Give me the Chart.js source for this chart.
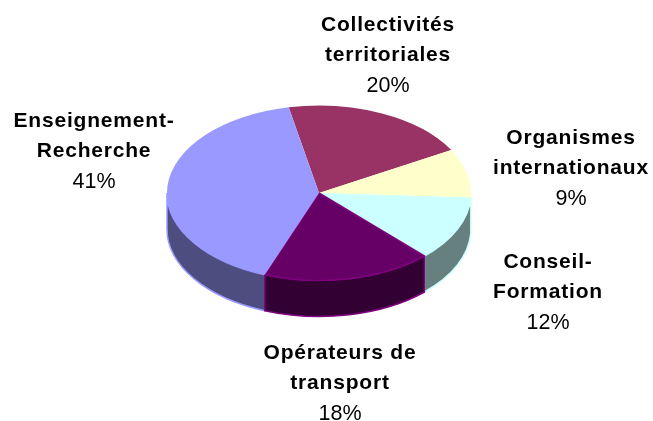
<!DOCTYPE html>
<html lang="fr">
<head>
<meta charset="utf-8">
<title>Répartition</title>
<script src="https://cdn.jsdelivr.net/npm/chart.js@4"></script>
<style>
  html, body { margin: 0; padding: 0; background: #fff; }
  canvas { display: block; }
</style>
</head>
<body>
<canvas id="pieChart" width="653" height="421"></canvas>
<script>
// Data
const categories = [
    ['Collectivités', 'territoriales'],
    ['Organismes', 'internationaux'],
    ['Conseil-', 'Formation'],
    ['Opérateurs de', 'transport'],
    ['Enseignement-', 'Recherche']
];
const values = [20, 9, 12, 18, 41];
const topColors = ['#993366', '#FFFFCC', '#CCFFFF', '#660066', '#9999FF'];
const wallColors = ['#4D1A33', '#808066', '#668080', '#330033', '#4D4D80'];
const edgeColors = ['#993366', '#FFFFCC', '#CCFFFF', '#800080', '#9999FF'];

// Label layout: centre x and first baseline y of each label block
const labelX = [388, 571, 548, 340, 94];
const labelY = [31, 144, 268, 359, 127];
const lineGap = 30;

const squash = 0.575;  // tilt of the pie
const depth = 36;      // height of the side wall
const wallOrder = [0, 1, 2, 4, 3];  // purple wall last, its edge sits on top

// Outline of the slice's front wall, squashed like the top face
function drawWall(ctx, arc, index) {
    const from = Math.max(arc.startAngle, 0);
    const to = Math.min(arc.endAngle, Math.PI);
    const ranges = [[from, to]];
    // the rotation can push a slice one full turn further on
    const from2 = Math.max(arc.startAngle, 2 * Math.PI);
    const to2 = Math.min(arc.endAngle, 3 * Math.PI);
    ranges.push([from2, to2]);
    ranges.forEach(([a, b]) => {
        if (b <= a) return;
        const r = arc.outerRadius;
        ctx.beginPath();
        ctx.ellipse(arc.x, arc.y, r, r * squash, 0, a, b);
        ctx.ellipse(arc.x, arc.y + depth, r, r * squash, 0, b, a, true);
        ctx.closePath();
        ctx.fillStyle = wallColors[index];
        ctx.fill();
        ctx.lineWidth = 1.5;
        ctx.strokeStyle = edgeColors[index];
        ctx.stroke();
    });
}

const tiltPlugin = {
    id: 'tilt',
    beforeDatasetsDraw(chart) {
        const ctx = chart.ctx;
        const arcs = chart.getDatasetMeta(0).data;
        wallOrder.forEach(i => drawWall(ctx, arcs[i], i));
        ctx.save();
        ctx.translate(0, arcs[0].y);
        ctx.scale(1, squash);
        ctx.translate(0, -arcs[0].y);
    },
    afterDatasetsDraw(chart) {
        chart.ctx.restore();
    }
};

const labelPlugin = {
    id: 'sliceLabels',
    afterDraw(chart) {
        const ctx = chart.ctx;
        ctx.save();
        ctx.fillStyle = '#000';
        ctx.textAlign = 'center';
        ctx.textBaseline = 'alphabetic';
        categories.forEach((lines, i) => {
            ctx.font = 'bold 21px "Liberation Sans", Arial, sans-serif';
            ctx.letterSpacing = '0.8px';
            lines.forEach((line, k) => ctx.fillText(line, labelX[i], labelY[i] + k * lineGap));
            ctx.font = '21.5px "Liberation Sans", Arial, sans-serif';
            ctx.letterSpacing = '0px';
            ctx.fillText(values[i] + '%', labelX[i], labelY[i] + lines.length * lineGap + 1);
        });
        ctx.restore();
    }
};

new Chart(document.getElementById('pieChart').getContext('2d'), {
    type: 'pie',
    data: {
        labels: categories.map(c => c.join(' ')),
        datasets: [{
            data: values,
            backgroundColor: topColors,
            borderColor: edgeColors,
            borderWidth: [0, 0, 0, 2, 0]
        }]
    },
    options: {
        responsive: false,
        animation: false,
        events: [],
        rotation: -11.5,
        layout: { padding: { left: 166, right: 181, top: 40, bottom: 75 } },
        plugins: { legend: { display: false }, tooltip: { enabled: false } }
    },
    plugins: [tiltPlugin, labelPlugin]
});
</script>
</body>
</html>
